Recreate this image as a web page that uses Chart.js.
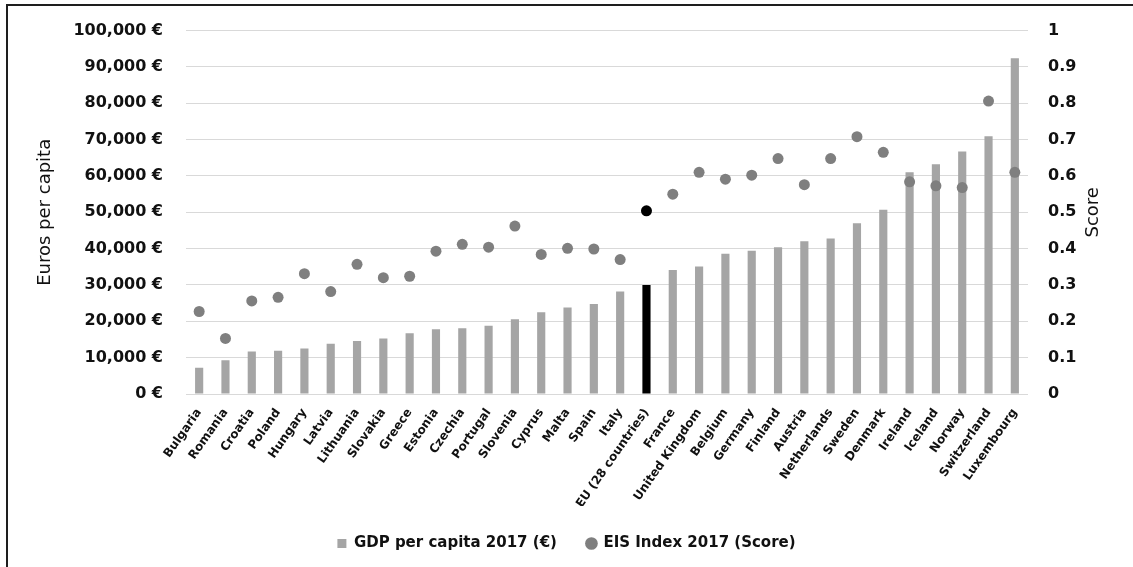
<!DOCTYPE html>
<html>
<head>
<meta charset="utf-8">
<title>GDP per capita and EIS Index 2017</title>
<script src="https://cdn.jsdelivr.net/npm/chart.js@4/dist/chart.umd.min.js"></script>
<style>
  html, body { margin: 0; padding: 0; background: #ffffff; }
  #wrap { position: relative; width: 1133px; height: 567px; overflow: hidden; }
  #frame {
    position: absolute; left: 6px; top: 4px; right: 0; bottom: 0;
    border-left: 2px solid #1e1e1e; border-top: 2px solid #1e1e1e;
  }
  #chart { position: absolute; left: 0; top: -2px; }
</style>
</head>
<body>
<div id="wrap">
  <div id="frame"></div>
  <canvas id="chart" width="1133" height="567"></canvas>
</div>
<script>
// Countries, ordered by GDP per capita
const categories = [
  'Bulgaria', 'Romania', 'Croatia', 'Poland', 'Hungary', 'Latvia', 'Lithuania',
  'Slovakia', 'Greece', 'Estonia', 'Czechia', 'Portugal', 'Slovenia', 'Cyprus',
  'Malta', 'Spain', 'Italy', 'EU (28 countries)', 'France', 'United Kingdom',
  'Belgium', 'Germany', 'Finland', 'Austria', 'Netherlands', 'Sweden', 'Denmark',
  'Ireland', 'Iceland', 'Norway', 'Switzerland', 'Luxembourg'
];

// GDP per capita 2017 (€)
const gdpPerCapita = [
  7200, 9300, 11700, 11900, 12500, 13800, 14600,
  15300, 16700, 17800, 18100, 18800, 20600, 22500,
  23800, 24800, 28200, 30000, 34100, 35100,
  38600, 39400, 40400, 42000, 42800, 47000, 50700,
  61000, 63200, 66700, 70900, 92400
];

// EIS Index 2017 (score)
const eisScore = [
  0.227, 0.153, 0.256, 0.266, 0.331, 0.282, 0.357,
  0.320, 0.324, 0.393, 0.412, 0.404, 0.462, 0.384,
  0.401, 0.399, 0.370, 0.504, 0.550, 0.610,
  0.591, 0.602, 0.648, 0.576, 0.648, 0.708, 0.665,
  0.584, 0.573, 0.568, 0.806, 0.610
];

const seriesNames = ['GDP per capita 2017 (€)', 'EIS Index 2017 (Score)'];
const axisTitles = { gdp: 'Euros per capita', score: 'Score' };
const highlighted = 'EU (28 countries)';

const BAR_GREY = '#a5a5a5';
const DOT_GREY = '#7f7f7f';
const HIGHLIGHT = '#000000';
const TEXT = '#111111';
const GRID = '#d9d9d9';
const FONT = '"DejaVu Sans", sans-serif';

const barColors = categories.map(c => c === highlighted ? HIGHLIGHT : BAR_GREY);
const dotColors = categories.map(c => c === highlighted ? HIGHLIGHT : DOT_GREY);

// Secondary axis title, written bottom-to-top beside the score axis
const scoreTitle = {
  id: 'scoreTitle',
  afterDraw(chart) {
    const { ctx, chartArea } = chart;
    const x = 1093;
    const y = (chartArea.top + chartArea.bottom) / 2;
    ctx.save();
    ctx.translate(x, y);
    ctx.rotate(-Math.PI / 2);
    ctx.font = '18px ' + FONT;
    ctx.fillStyle = TEXT;
    ctx.textAlign = 'center';
    ctx.textBaseline = 'middle';
    ctx.fillText(axisTitles.score, 0, 0);
    ctx.restore();
  }
};

new Chart(document.getElementById('chart'), {
  data: {
    labels: categories,
    datasets: [
      {
        type: 'line',
        label: seriesNames[1],
        data: eisScore,
        yAxisID: 'yScore',
        showLine: false,
        pointRadius: 5.5,
        pointHoverRadius: 5.5,
        pointStyle: 'circle',
        pointBackgroundColor: dotColors,
        pointBorderColor: dotColors,
        backgroundColor: DOT_GREY,
        borderColor: DOT_GREY,
        borderWidth: 0,
        order: 0
      },
      {
        type: 'bar',
        label: seriesNames[0],
        data: gdpPerCapita,
        yAxisID: 'yGdp',
        backgroundColor: barColors,
        borderWidth: 0,
        pointStyle: 'rect',
        barPercentage: 0.31,
        categoryPercentage: 1.0,
        order: 1
      }
    ]
  },
  options: {
    responsive: false,
    animation: false,
    events: [],
    layout: { padding: { top: 20, left: 0, right: 0, bottom: 4 } },
    scales: {
      x: {
        offset: true,
        grid: { display: false, drawTicks: false },
        border: { display: false },
        ticks: {
          autoSkip: false,
          minRotation: 55,
          maxRotation: 55,
          padding: 12,
          color: TEXT,
          font: { family: FONT, size: 12, weight: 'bold' }
        },
        afterFit(scale) { scale.height = 112; }
      },
      yGdp: {
        position: 'left',
        min: 0,
        max: 100000,
        grid: { color: GRID, lineWidth: 1, drawTicks: false },
        border: { display: false },
        ticks: {
          stepSize: 10000,
          padding: 23,
          color: TEXT,
          font: { family: FONT, size: 16, weight: 'bold' },
          callback: v => v.toLocaleString('en-US') + ' €'
        },
        title: {
          display: true,
          text: axisTitles.gdp,
          color: TEXT,
          padding: { top: 35, bottom: 0 },
          font: { family: FONT, size: 18 }
        },
        afterFit(scale) { scale.width = 186; }
      },
      yScore: {
        position: 'right',
        min: 0,
        max: 1,
        grid: { display: false, drawTicks: false },
        border: { display: false },
        ticks: {
          stepSize: 0.1,
          padding: 20,
          color: TEXT,
          font: { family: FONT, size: 16, weight: 'bold' },
          callback: v => String(Number(v.toFixed(1)))
        },
        afterFit(scale) { scale.width = 105; }
      }
    },
    plugins: {
      tooltip: { enabled: false },
      legend: {
        position: 'bottom',
        reverse: true,
        labels: {
          usePointStyle: true,
          boxWidth: 9,
          boxHeight: 9,
          padding: 30,
          color: TEXT,
          font: { family: FONT, size: 15, weight: 'bold' }
        }
      }
    }
  },
  plugins: [scoreTitle]
});
</script>
</body>
</html>
